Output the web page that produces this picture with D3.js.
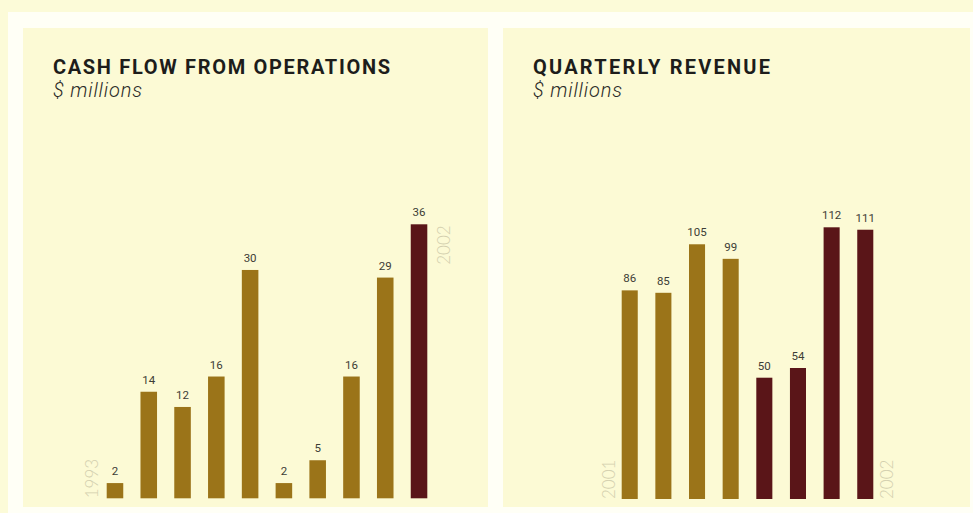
<!DOCTYPE html>
<html>
<head>
<meta charset="utf-8">
<script src="https://cdn.jsdelivr.net/npm/d3@7"></script>
<style>
  body { margin: 0; background: #fcfbd8; }
  svg { display: block; }
</style>
</head>
<body>
<svg id="chart" width="973" height="513"></svg>
<script>
// data
const cashYears = ["1993", "1994", "1995", "1996", "1997", "1998", "1999", "2000", "2001", "2002"];
const cashFlow = [2, 14, 12, 16, 30, 2, 5, 16, 29, 36];
const quarters = ["Q1 2001", "Q2 2001", "Q3 2001", "Q4 2001", "Q1 2002", "Q2 2002", "Q3 2002", "Q4 2002"];
const revenue = [86, 85, 105, 99, 50, 54, 112, 111];
const revenueYear = ["2001", "2001", "2001", "2001", "2002", "2002", "2002", "2002"];

const gold = "#9b7419";
const maroon = "#5a1518";
const svg = d3.select("#chart");

// page, white frame and the two panels
svg.append("rect").attr("width", 973).attr("height", 513).attr("fill", "#fcfbd8");
svg.append("rect").attr("x", 8).attr("y", 12).attr("width", 965).attr("height", 501).attr("fill", "#fffff6");
svg.append("rect").attr("x", 23).attr("y", 28).attr("width", 465).attr("height", 479).attr("fill", "#fcfad5");
svg.append("rect").attr("x", 503).attr("y", 28).attr("width", 467).attr("height", 479).attr("fill", "#fcfad5");

function titles(x, title, titleLen) {
  svg.append("text")
    .attr("x", x).attr("y", 74)
    .attr("font-family", "Roboto, 'DejaVu Sans', sans-serif")
    .attr("font-weight", 700)
    .attr("font-size", 20)
    .attr("fill", "#1d1d1b")
    .attr("textLength", titleLen)
    .attr("lengthAdjust", "spacing")
    .text(title);
  svg.append("text")
    .attr("x", x).attr("y", 97)
    .attr("font-family", "Roboto, 'DejaVu Sans', sans-serif")
    .attr("font-style", "italic")
    .attr("font-weight", 300)
    .attr("font-size", 20)
    .attr("fill", "#2b2b28")
    .attr("textLength", 89)
    .attr("lengthAdjust", "spacing")
    .text("$ millions");
}

function yearLabel(x, y, anchor, txt) {
  svg.append("text")
    .attr("transform", `translate(${x},${y}) rotate(-90)`)
    .attr("text-anchor", anchor)
    .attr("font-family", "Lato, 'Open Sans', sans-serif")
    .attr("font-weight", 300)
    .attr("font-size", 17)
    .attr("fill", "#d3cfae")
    .text(txt);
}

function valueLabels(g, data, cats, x, y) {
  g.selectAll("text.val")
    .data(data)
    .join("text")
    .attr("class", "val")
    .attr("x", (d, i) => x(cats[i]) + x.bandwidth() / 2)
    .attr("y", d => y(d) - 8)
    .attr("text-anchor", "middle")
    .attr("font-family", "Roboto, 'DejaVu Sans', sans-serif")
    .attr("font-size", 11.5)
    .attr("fill", "#3d3d36")
    .text(d => d);
}

// ---- cash flow from operations ----
titles(53, "CASH FLOW FROM OPERATIONS", 337);

let xCash = d3.scaleBand().domain(cashYears).range([106.7, 427.3]).paddingInner(0.51).paddingOuter(0);
let yCash = d3.scaleLinear().domain([0, 36]).range([498.3, 224.3]);

let gCash = svg.append("g");
gCash.selectAll("rect")
  .data(cashFlow)
  .join("rect")
  .attr("x", (d, i) => xCash(cashYears[i]))
  .attr("y", d => yCash(d))
  .attr("width", xCash.bandwidth())
  .attr("height", d => yCash(0) - yCash(d))
  .attr("fill", (d, i) => i == cashFlow.length - 1 ? maroon : gold);
valueLabels(gCash, cashFlow, cashYears, xCash, yCash);

yearLabel(xCash(cashYears[0]) - 8.5, yCash(0), "start", cashYears[0]);
let lastC = cashYears[cashYears.length - 1];
yearLabel(xCash(lastC) + xCash.bandwidth() + 22.5, yCash(cashFlow[cashFlow.length - 1]) + 1, "end", lastC);

// ---- quarterly revenue ----
titles(533, "QUARTERLY REVENUE", 237);

let xRev = d3.scaleBand().domain(quarters).range([621.7, 873.3]).paddingInner(0.523).paddingOuter(0);
let yRev = d3.scaleLinear().domain([0, 112]).range([499, 227.3]);

let gRev = svg.append("g");
gRev.selectAll("rect")
  .data(revenue)
  .join("rect")
  .attr("x", (d, i) => xRev(quarters[i]))
  .attr("y", d => yRev(d))
  .attr("width", xRev.bandwidth())
  .attr("height", d => yRev(0) - yRev(d))
  .attr("fill", (d, i) => revenueYear[i] == "2001" ? gold : maroon);
valueLabels(gRev, revenue, quarters, xRev, yRev);

yearLabel(xRev(quarters[0]) - 6.5, yRev(0), "start", revenueYear[0]);
let lastQ = quarters[quarters.length - 1];
yearLabel(xRev(lastQ) + xRev.bandwidth() + 20, yRev(0), "start", revenueYear[revenueYear.length - 1]);
</script>
</body>
</html>
